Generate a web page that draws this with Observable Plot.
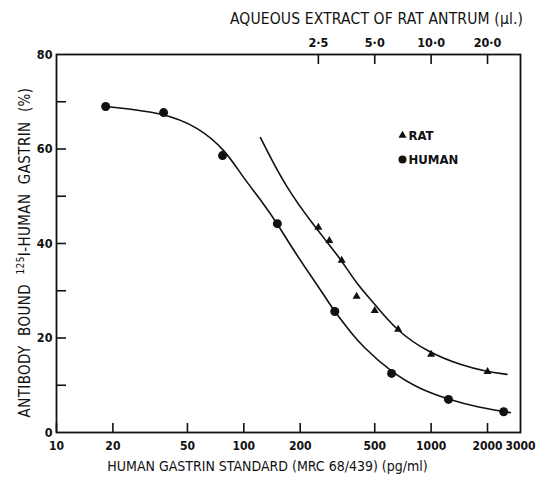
<!DOCTYPE html>
<html><head><meta charset="utf-8">
<script src="https://cdn.jsdelivr.net/npm/d3@7"></script>
<script src="https://cdn.jsdelivr.net/npm/@observablehq/plot@0.6"></script>
<style>body{margin:0;background:#fff}</style>
</head><body><div id="chart"></div>
<script>
// Human gastrin standard (pg/ml) vs % bound
const humanDose = [18.3, 37.3, 77, 151, 306, 615, 1238, 2440];
const humanBound = [69.0, 67.7, 58.6, 44.2, 25.6, 12.5, 7.0, 4.4];
// Aqueous extract of rat antrum (µl) vs % bound
const ratVolume = [2.5, 2.86, 3.33, 4.0, 5.0, 6.67, 10, 20];
const ratBound = [43.4, 40.6, 36.4, 28.8, 25.8, 21.8, 16.5, 12.9];
// hand-drawn fitted curves (x in pg/ml units of bottom axis)
const humanCurveX = [18.3, 37.3, 57.3, 79.8, 97, 127, 151, 180, 224, 273, 305, 376, 426, 615, 857, 1238, 1788, 2646];
const humanCurveY = [69.0, 67.7, 64.6, 59.7, 54.5, 48.5, 44.2, 39.2, 33.6, 28.6, 25.6, 21.0, 18.4, 12.7, 9.3, 7.0, 5.3, 4.2];
const ratCurveX = [122.7, 167, 241, 277, 333, 400, 500, 651, 968, 1452, 1975, 2538];
const ratCurveY = [62.4, 51.9, 43.4, 40.4, 36.4, 31.5, 27.2, 21.6, 16.9, 14.2, 12.9, 12.3];
// axes
const xTicks = [10, 20, 50, 100, 200, 500, 1000, 2000];
const xLabelValues = [10, 20, 50, 100, 200, 500, 1000, 2000, 3000];
const xTickLabels = ["10", "20", "50", "100", "200", "500", "1000", "2000", "3000"];
const topTicks = [2.5, 5, 10, 20];
const topTickLabels = ["2·5", "5·0", "10·0", "20·0"];
const ulToPg = 100; // top-axis alignment: 1 µl sits at 100 pg/ml on the bottom scale
const yTicks = [10, 20, 30, 40, 50, 60, 70];
const yTickLabels = [0, 20, 40, 60, 80];
const legendNames = ["RAT", "HUMAN"];
const yTitleParts = ["ANTIBODY  BOUND  ", "125", "I-HUMAN  GASTRIN  (%)"];

const human = humanDose.map((x, i) => ({x, y: humanBound[i]}));
const rat = ratVolume.map((v, i) => ({x: v * ulToPg, y: ratBound[i]}));
const humanCurve = humanCurveX.map((x, i) => ({x, y: humanCurveY[i]}));
const ratCurve = ratCurveX.map((x, i) => ({x, y: ratCurveY[i]}));

const font = "'DejaVu Sans Condensed','DejaVu Sans',sans-serif";
const ink = "#111";
const W = 547, H = 480, mL = 56, mR = 27, mT = 54, mB = 48;
const frameH = H - mT - mB, frameW = W - mL - mR;

const plot = Plot.plot({
  width: W, height: H,
  marginLeft: mL, marginRight: mR, marginTop: mT, marginBottom: mB,
  style: {fontFamily: font, fontSize: "12px", color: ink, background: "#fff", fontWeight: "bold"},
  x: {type: "log", domain: [10, 3000], axis: null},
  y: {domain: [0, 80], axis: null},
  marks: [
    Plot.frame({stroke: ink, strokeWidth: 1.8}),
    Plot.ruleX(xTicks, {x: d => d, insetTop: frameH - 9, stroke: ink, strokeWidth: 1.6}),
    Plot.ruleX(topTicks, {x: d => d * ulToPg, insetBottom: frameH - 10, stroke: ink, strokeWidth: 1.6}),
    Plot.ruleY(yTicks, {y: d => d, insetRight: frameW - 10, stroke: ink, strokeWidth: 1.6}),
    Plot.text(xLabelValues, {x: d => d, text: (d, i) => xTickLabels[i], frameAnchor: "bottom", dy: 14, lineAnchor: "middle", fontSize: 12}),
    Plot.text(topTicks, {x: d => d * ulToPg, text: (d, i) => topTickLabels[i], frameAnchor: "top", dy: -12, lineAnchor: "middle", fontSize: 12.5}),
    Plot.text(yTickLabels, {y: d => d, text: d => String(d), frameAnchor: "left", dx: -4, textAnchor: "end", lineAnchor: "middle", fontSize: 12.5}),
    Plot.text(["AQUEOUS EXTRACT OF RAT ANTRUM (µl.)"], {frameAnchor: "top", dx: 88, dy: -35, textAnchor: "middle", lineAnchor: "middle", fontSize: 15.5, fontWeight: "normal"}),
    Plot.text(["HUMAN GASTRIN STANDARD (MRC 68/439) (pg/ml)"], {frameAnchor: "bottom", dx: -21, dy: 34, textAnchor: "middle", lineAnchor: "middle", fontSize: 14, fontWeight: "normal"}),
    Plot.text([yTitleParts.join("")], {frameAnchor: "left", dx: -31, dy: 9, rotate: -90, textAnchor: "middle", lineAnchor: "middle", fontSize: 15, fontWeight: "normal"}),
    Plot.line(humanCurve, {x: "x", y: "y", curve: "basis", stroke: ink, strokeWidth: 1.6}),
    Plot.line(ratCurve, {x: "x", y: "y", curve: "basis", stroke: ink, strokeWidth: 1.6}),
    Plot.dot(human, {x: "x", y: "y", r: 4.5, fill: ink, stroke: null}),
    Plot.dot(rat, {x: "x", y: "y", r: 3, symbol: "triangle", fill: ink, stroke: null}),
    // legend
    Plot.dot([legendNames[0]], {x: null, y: null, frameAnchor: "top-left", dx: 346, dy: 81, r: 3, symbol: "triangle", fill: ink, stroke: null}),
    Plot.dot([legendNames[1]], {x: null, y: null, frameAnchor: "top-left", dx: 346, dy: 105, r: 4, fill: ink, stroke: null}),
    Plot.text([legendNames[0]], {frameAnchor: "top-left", dx: 352, dy: 81, textAnchor: "start", lineAnchor: "middle", fontSize: 13}),
    Plot.text([legendNames[1]], {frameAnchor: "top-left", dx: 352, dy: 105, textAnchor: "start", lineAnchor: "middle", fontSize: 13})
  ]
});
const ns = "http://www.w3.org/2000/svg";
for (const t of plot.querySelectorAll("text")) {
  // superscript "125" in the y-axis title
  if (t.textContent === yTitleParts.join("")) {
    t.textContent = "";
    t.setAttribute("letter-spacing", "0.4");
    const a = document.createElementNS(ns, "tspan"); a.textContent = yTitleParts[0];
    const b = document.createElementNS(ns, "tspan"); b.textContent = yTitleParts[1];
    b.setAttribute("dy", "-6"); b.setAttribute("font-size", "10");
    const c = document.createElementNS(ns, "tspan"); c.textContent = yTitleParts[2];
    c.setAttribute("dy", "6");
    t.append(a, b, c);
  }
  if (t.textContent.startsWith("AQUEOUS")) t.setAttribute("letter-spacing", "0.15");
}
document.getElementById("chart").append(plot);
</script>
</body></html>
